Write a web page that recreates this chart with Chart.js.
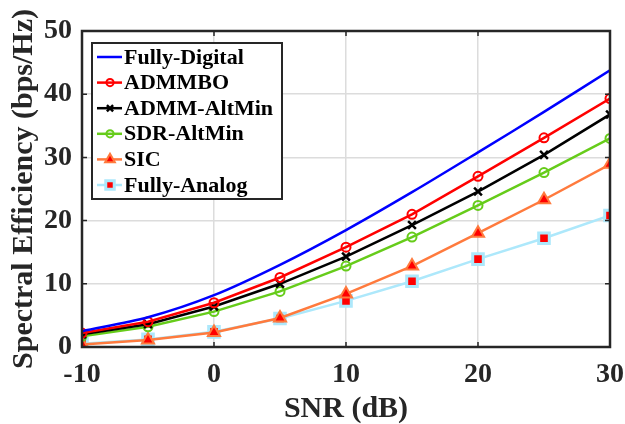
<!DOCTYPE html>
<html>
<head>
<meta charset="utf-8">
<script src="https://cdn.jsdelivr.net/npm/chart.js@4/dist/chart.umd.min.js"></script>
<style>
  html, body { margin: 0; padding: 0; background: #fff; overflow: hidden; }
  #wrap { width: 625px; height: 424px; }
  canvas { display: block; }
</style>
</head>
<body>
<div id="wrap"><canvas id="seChart"></canvas></div>
<script>
// SNR (dB) sample points
const snr = [-10, -5, 0, 5, 10, 15, 20, 25, 30];

// spectral efficiency (bps/Hz)
const fullyDigital = [2.5, 4.7, 8.2, 13.0, 18.5, 24.5, 30.8, 37.2, 43.8];
const admmbo       = [2.2, 4.0, 7.0, 11.0, 15.8, 21.0, 27.0, 33.1, 39.3];
const admmAltMin   = [2.0, 3.6, 6.4, 10.0, 14.3, 19.3, 24.6, 30.4, 36.8];
const sdrAltMin    = [1.7, 3.2, 5.6, 8.8, 12.8, 17.4, 22.4, 27.6, 33.0];
const sic          = [0.4, 1.1, 2.3, 4.6, 8.4, 12.8, 18.0, 23.3, 28.9];
const fullyAnalog  = [0.5, 1.2, 2.4, 4.5, 7.3, 10.4, 13.9, 17.2, 20.8];

const xTicks = [-10, 0, 10, 20, 30];
const yTicks = [0, 10, 20, 30, 40, 50];

const pts = arr => arr.map((v, i) => ({ x: snr[i], y: v }));
const FONT = 'Liberation Serif';

// legend drawn inside the plot, like the MATLAB one
const insideLegend = {
  id: 'insideLegend',
  afterDatasetsDraw(chart) {
    const { ctx, chartArea } = chart;
    const x0 = chartArea.left + 10, y0 = chartArea.top + 12;
    const w = 190, rowH = 25.6, h = 156;
    ctx.save();
    ctx.fillStyle = '#fff';
    ctx.fillRect(x0, y0, w, h);
    ctx.strokeStyle = '#262626';
    ctx.lineWidth = 2;
    ctx.strokeRect(x0, y0, w, h);
    ctx.font = 'bold 22px ' + FONT;
    ctx.textBaseline = 'middle';
    chart.data.datasets.forEach((ds, i) => {
      const cy = y0 + 14 + i * rowH;
      ctx.strokeStyle = ds.borderColor;
      ctx.lineWidth = 2.5;
      ctx.beginPath();
      ctx.moveTo(x0 + 5, cy);
      ctx.lineTo(x0 + 30, cy);
      ctx.stroke();
      if (ds.pointRadius > 0) {
        ctx.fillStyle = ds.pointBackgroundColor;
        ctx.strokeStyle = ds.pointBorderColor;
        ctx.lineWidth = ds.pointBorderWidth;
        Chart.helpers.drawPoint(ctx, {
          pointStyle: ds.pointStyle,
          radius: ds.pointRadius * 0.8,
          borderWidth: ds.pointBorderWidth
        }, x0 + 18, cy);
      }
      ctx.fillStyle = '#000';
      ctx.fillText(ds.label, x0 + 32, cy + 1);
    });
    ctx.restore();
  }
};

// dark box around the plot area with small inward ticks
const boxFrame = {
  id: 'boxFrame',
  afterDraw(chart) {
    const { ctx, chartArea: { left, top, right, bottom }, scales } = chart;
    ctx.save();
    ctx.strokeStyle = '#262626';
    ctx.lineWidth = 2.5;
    ctx.strokeRect(left, top, right - left, bottom - top);
    ctx.lineWidth = 1.5;
    ctx.beginPath();
    xTicks.forEach(v => {
      const px = scales.x.getPixelForValue(v);
      ctx.moveTo(px, top); ctx.lineTo(px, top + 5);
      ctx.moveTo(px, bottom); ctx.lineTo(px, bottom - 5);
    });
    yTicks.forEach(v => {
      const py = scales.y.getPixelForValue(v);
      ctx.moveTo(right, py); ctx.lineTo(right - 5, py);
      ctx.moveTo(left, py); ctx.lineTo(left + 5, py);
    });
    ctx.stroke();
    ctx.restore();
  }
};

new Chart(document.getElementById('seChart'), {
  type: 'line',
  data: {
    datasets: [
      {
        label: 'Fully-Digital',
        data: pts(fullyDigital),
        borderColor: '#0000ff',
        borderWidth: 2.5,
        pointRadius: 0,
        pointStyle: 'circle',
        pointBorderWidth: 0,
        tension: 0.3
      },
      {
        label: 'ADMMBO',
        data: pts(admmbo),
        borderColor: '#ff0000',
        borderWidth: 2.5,
        pointStyle: 'circle',
        pointRadius: 4.5,
        pointBorderWidth: 2,
        pointBorderColor: '#ff0000',
        pointBackgroundColor: 'rgba(255,255,255,0)',
        tension: 0
      },
      {
        label: 'ADMM-AltMin',
        data: pts(admmAltMin),
        borderColor: '#000000',
        borderWidth: 2.5,
        pointStyle: 'crossRot',
        pointRadius: 5.5,
        pointBorderWidth: 2.5,
        pointBorderColor: '#000000',
        pointBackgroundColor: '#000000',
        tension: 0
      },
      {
        label: 'SDR-AltMin',
        data: pts(sdrAltMin),
        borderColor: '#66cc1a',
        borderWidth: 2.5,
        pointStyle: 'circle',
        pointRadius: 4.5,
        pointBorderWidth: 2,
        pointBorderColor: '#66cc1a',
        pointBackgroundColor: 'rgba(255,255,255,0)',
        tension: 0
      },
      {
        label: 'SIC',
        data: pts(sic),
        borderColor: '#ff7a3d',
        borderWidth: 2.5,
        pointStyle: 'triangle',
        pointRadius: 7,
        pointBorderWidth: 2,
        pointBorderColor: '#ff7a3d',
        pointBackgroundColor: '#ff0000',
        tension: 0
      },
      {
        label: 'Fully-Analog',
        data: pts(fullyAnalog),
        borderColor: '#ade8fb',
        borderWidth: 2.5,
        pointStyle: 'rect',
        pointRadius: 7.5,
        pointBorderWidth: 3,
        pointBorderColor: '#ade8fb',
        pointBackgroundColor: '#ff0000',
        tension: 0
      }
    ]
  },
  options: {
    responsive: true,
    maintainAspectRatio: false,
    animation: false,
    layout: {
      autoPadding: false,
      padding: { top: 31, right: 15, left: 0, bottom: 0 }
    },
    plugins: {
      legend: { display: false },
      tooltip: { enabled: false }
    },
    scales: {
      x: {
        type: 'linear',
        min: -10,
        max: 30,
        afterFit(scale) {
          scale.height = 77;
          scale.paddingLeft = 0;
          scale.paddingRight = 0;
        },
        afterBuildTicks(scale) { scale.ticks = xTicks.map(v => ({ value: v })); },
        grid: { color: '#dcdcdc', lineWidth: 1.5, drawTicks: false },
        border: { display: false },
        ticks: {
          color: '#262626',
          padding: 11,
          maxRotation: 0,
          font: { family: FONT, size: 28, weight: 'bold' }
        },
        title: {
          display: true,
          text: 'SNR (dB)',
          color: '#262626',
          padding: { top: 0, bottom: -3 },
          font: { family: FONT, size: 30, weight: 'bold' }
        }
      },
      y: {
        min: 0,
        max: 50,
        afterFit(scale) {
          scale.width = 82;
          scale.paddingTop = 0;
          scale.paddingBottom = 0;
        },
        afterBuildTicks(scale) { scale.ticks = yTicks.map(v => ({ value: v })); },
        grid: { color: '#dcdcdc', lineWidth: 1.5, drawTicks: false },
        border: { display: false },
        ticks: {
          color: '#262626',
          padding: 10,
          font: { family: FONT, size: 28, weight: 'bold' }
        },
        title: {
          display: true,
          text: 'Spectral Efficiency (bps/Hz)',
          color: '#262626',
          padding: { top: 6, bottom: 0 },
          font: { family: FONT, size: 30, weight: 'bold' }
        }
      }
    }
  },
  plugins: [boxFrame, insideLegend]
});
</script>
</body>
</html>
